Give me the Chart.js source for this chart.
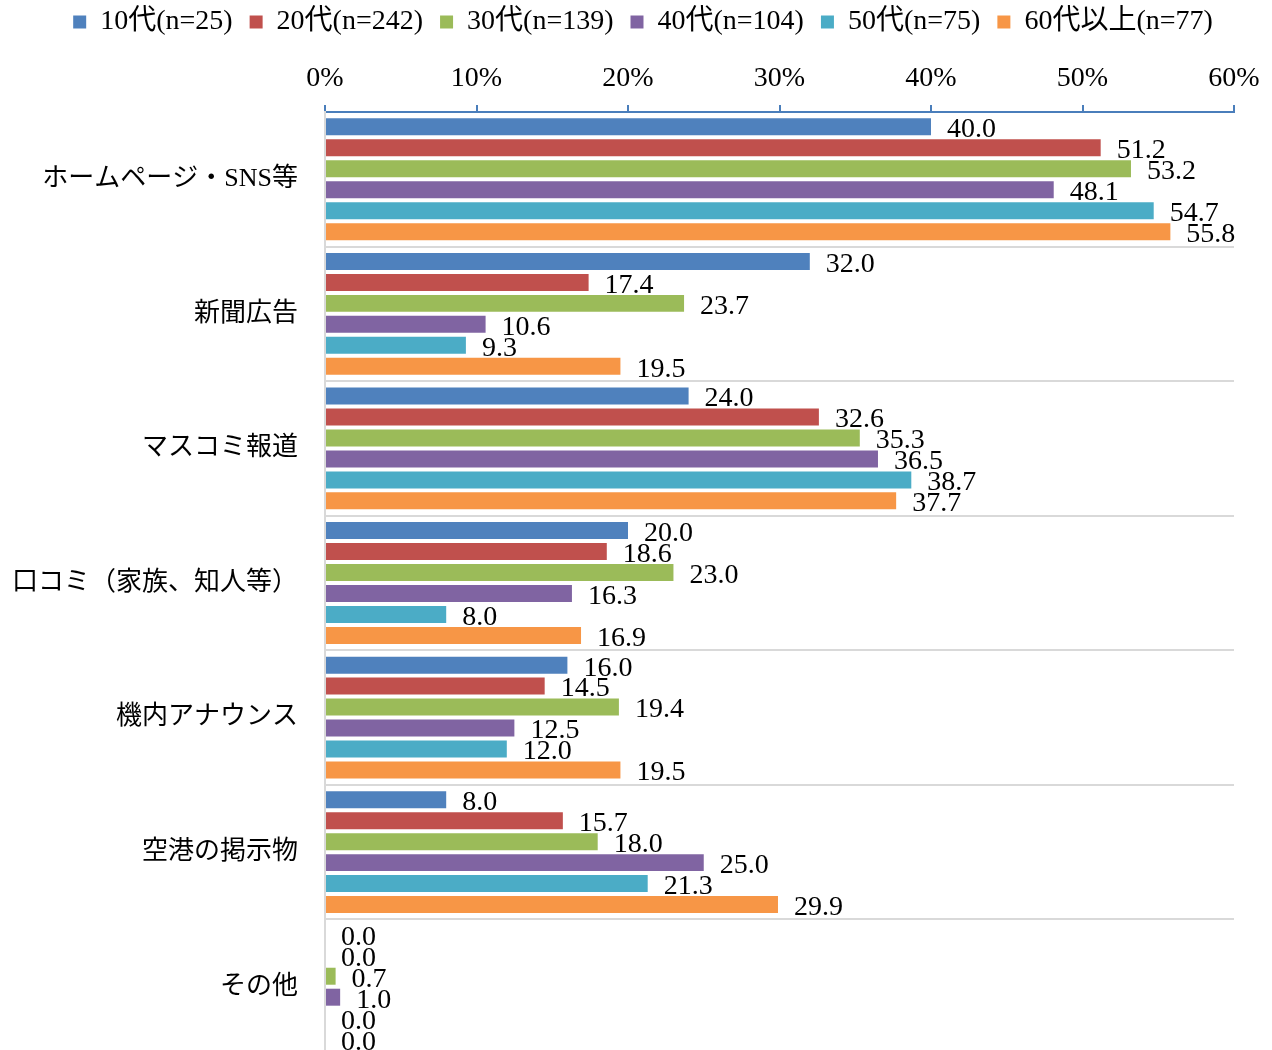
<!DOCTYPE html>
<html lang="ja">
<head>
<meta charset="utf-8">
<title>情報入手経路（年代別）</title>
<script src="https://cdn.jsdelivr.net/npm/chart.js@4/dist/chart.umd.min.js"></script>
<style>
  html, body { margin: 0; background: #fff; height: 1050px; overflow: hidden; }
  #grafico { display: block; }
</style>
</head>
<body>
<canvas id="grafico" width="1272" height="1060"></canvas>
<script>
// datos (%)
const categorias = ["ホームページ・SNS等", "新聞広告", "マスコミ報道", "口コミ（家族、知人等）", "機内アナウンス", "空港の掲示物", "その他"];
const series = ["10代(n=25)", "20代(n=242)", "30代(n=139)", "40代(n=104)", "50代(n=75)", "60代以上(n=77)"];
const edad10 = [40.0, 32.0, 24.0, 20.0, 16.0, 8.0, 0.0];
const edad20 = [51.2, 17.4, 32.6, 18.6, 14.5, 15.7, 0.0];
const edad30 = [53.2, 23.7, 35.3, 23.0, 19.4, 18.0, 0.7];
const edad40 = [48.1, 10.6, 36.5, 16.3, 12.5, 25.0, 1.0];
const edad50 = [54.7, 9.3, 38.7, 8.0, 12.0, 21.3, 0.0];
const edad60 = [55.8, 19.5, 37.7, 16.9, 19.5, 29.9, 0.0];
const colores = ["#4f81bd", "#c0504d", "#9bbb59", "#8064a2", "#4bacc6", "#f79646"];
const ticksX = [0, 10, 20, 30, 40, 50, 60];

const fuente = '"Liberation Serif", "Noto Sans CJK JP", serif';

// etiquetas de valor al final de cada barra
const etiquetas = {
    id: "etiquetas",
    afterDatasetsDraw(chart) {
        const ctx = chart.ctx;
        ctx.save();
        ctx.font = "28px " + fuente;
        ctx.fillStyle = "#000";
        ctx.textAlign = "left";
        ctx.textBaseline = "middle";
        chart.data.datasets.forEach((ds, i) => {
            chart.getDatasetMeta(i).data.forEach((barra, j) => {
                ctx.fillText(ds.data[j].toFixed(1), barra.x + 16, barra.y + 3);
            });
        });
        ctx.restore();
    },
};

// la leyenda queda centrada sobre todo el lienzo, no sólo sobre el área con padding
const moverLeyenda = {
    id: "moverLeyenda",
    afterLayout(chart) {
        chart.legend.left += 26;
        chart.legend.right += 26;
    },
};

const valores = [edad10, edad20, edad30, edad40, edad50, edad60];

new Chart(document.querySelector("#grafico").getContext("2d"), {
    type: "bar",
    data: {
        labels: categorias,
        datasets: series.map((nombre, i) => ({
            label: nombre,
            data: valores[i],
            backgroundColor: colores[i],
            categoryPercentage: 0.935,
            barPercentage: 0.81,
        })),
    },
    options: {
        indexAxis: "y",
        responsive: false,
        animation: false,
        layout: {
            padding: { top: -9, right: 38, bottom: 6, left: 0 },
        },
        scales: {
            x: {
                position: "top",
                min: 0,
                max: 60,
                afterBuildTicks: (escala) => {
                    escala.ticks = ticksX.map((v) => ({ value: v }));
                },
                afterFit: (escala) => {
                    escala.height = 66;
                },
                ticks: {
                    color: "#000",
                    font: { size: 28, family: fuente },
                    padding: 10,
                    callback: (v) => v + "%",
                },
                grid: {
                    drawOnChartArea: false,
                    drawTicks: true,
                    tickLength: 7,
                    color: "#4a7ebb",
                    lineWidth: 2,
                },
                border: { color: "#4a7ebb", width: 2 },
            },
            y: {
                afterFit: (escala) => {
                    escala.width = 325;
                    escala.paddingTop = 0;
                    escala.paddingBottom = 0;
                },
                ticks: {
                    color: "#000",
                    font: { size: 26, family: fuente },
                    padding: 27,
                },
                grid: {
                    drawTicks: false,
                    color: (c) => (c.index === 0 ? "rgba(0,0,0,0)" : "#d9d9d9"),
                    lineWidth: 2,
                },
                border: { color: "#d9d9d9", width: 2 },
            },
        },
        plugins: {
            legend: {
                position: "top",
                labels: {
                    color: "#000",
                    boxWidth: 13,
                    boxHeight: 13,
                    padding: 17,
                    font: { size: 28, family: fuente },
                },
            },
            tooltip: { enabled: false },
        },
    },
    plugins: [etiquetas, moverLeyenda],
});
</script>
</body>
</html>
